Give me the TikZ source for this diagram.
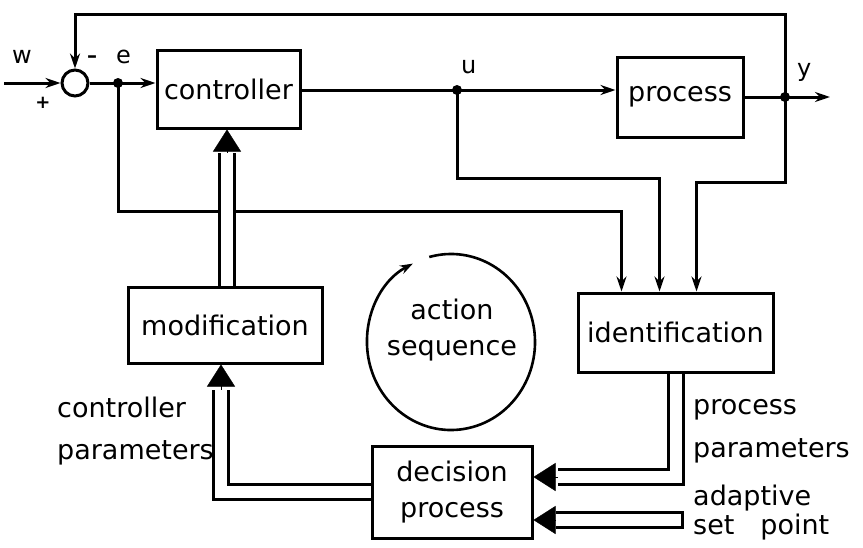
\documentclass[tikz,border=0pt]{standalone}
\usepackage{fontspec}
\setmainfont{DejaVu Sans}
\usetikzlibrary{arrows.meta}

\tikzset{
  blk/.style={draw, line width=3pt, inner sep=0pt},
  sig/.style={line width=3pt, -{Stealth[length=15pt,width=10pt]}},
  dbl/.style={line width=3pt, double, double distance=12pt},
  head/.style={line width=0.4pt, -{Triangle[length=22pt,width=28pt]}},
  lbl/.style={inner sep=0pt, anchor=base west},
  small/.style={font=\fontsize{24}{28}\selectfont},
}

\begin{document}
\begin{tikzpicture}[x=1pt, y=-1pt, font=\fontsize{27}{36}\selectfont]
\useasboundingbox (0,0) rectangle (863,547);

% blocks
\node[blk, minimum width=143pt, minimum height=78pt] (ctrl) at (228.5,89) {controller};
\node[blk, minimum width=126pt, minimum height=80pt] (proc) at (680,97) {process};
\node[blk, minimum width=195pt, minimum height=79pt] (ident) at (675.5,332.5) {identification};
\node[blk, minimum width=194pt, minimum height=76pt] (mod) at (225,325) {modification};
\node[blk, minimum width=160pt, minimum height=92pt, align=center] (dec) at (452,492) {decision\\process};
\node[circle, draw, line width=3pt, minimum size=26pt, inner sep=0pt] (sum) at (75,83) {};

% signal points
\coordinate (in) at (4,83);
\coordinate (e) at (118,83);
\coordinate (u) at (457,90);
\coordinate (y) at (785,97);
\coordinate (out) at (830,97);

\draw[sig] (in) -- (sum.west);
\draw[sig] (sum.east) -- (ctrl.west |- sum.east);
\draw[sig] (ctrl.east |- u) -- (proc.west |- u);
\draw[sig] (proc.east) -- (out);
\draw[sig] (y) -- ++(0,-83) -| (sum.north);
\draw[sig] (e) -- ++(0,128) -| ([shift={(-54,0)}]ident.north);
\draw[sig] (u) -- ++(0,88) -| ([shift={(-16,0)}]ident.north);
\draw[sig] (y) -- ++(0,85) -| ([shift={(21,0)}]ident.north);
\foreach \p in {e,u,y}
  \fill (\p) circle (5);

% parameter links
\draw[dbl] ([shift={(2,0)}]mod.north) -- ++(0,-133) coordinate (mh);
\draw[head] (mh) -- (mh |- ctrl.south);
\draw[dbl] (dec.west) -| ([shift={(-4,25)}]mod.south) coordinate (dh);
\draw[head] (dh) -- ([shift={(-4,0)}]mod.south);
\draw[dbl] (ident.south) |- ([shift={(24,-15)}]dec.east) coordinate (ih);
\draw[head] (ih) -- ([shift={(0,-15)}]dec.east);
\coordinate (asp) at (682,520);
\coordinate (ah) at (556,520);
\draw[dbl] (asp) -- (ah);
\draw[head] (ah) -- (dec.east |- ah);
\draw[line width=3pt] (asp) ++(0,-9) -- ++(0,18);

% action sequence
\draw[line width=2.6pt, -{Stealth[length=13pt,width=9pt]}] (451,342) ++(-105:84 and 88)
  arc[start angle=-105, end angle=243, x radius=84, y radius=88];
\node[align=center] (act) at (452,330) {action\\sequence};

% labels
\node[lbl, small] (lw) at (12,63) {w};
\node[lbl, small] (le) at (116,63) {e};
\node[lbl, small] (lu) at (461,73) {u};
\node[lbl, small] (ly) at (797,76) {y};
\node[font=\fontsize{20}{20}\selectfont\bfseries] (lminus) at (92,59) {--};
\node[font=\fontsize{18}{18}\selectfont\bfseries] (lplus) at (43,103) {+};

\foreach \n/\x/\y/\txt in {cp1/57/417/controller, cp2/57/459/parameters,
  pp1/693/414/process, pp2/693/457/parameters,
  sp1/693/505/adaptive, sp2/693/534/set\hspace{26pt}point}
  \node[lbl] (\n) at (\x,\y) {\txt};
\end{tikzpicture}
\end{document}
